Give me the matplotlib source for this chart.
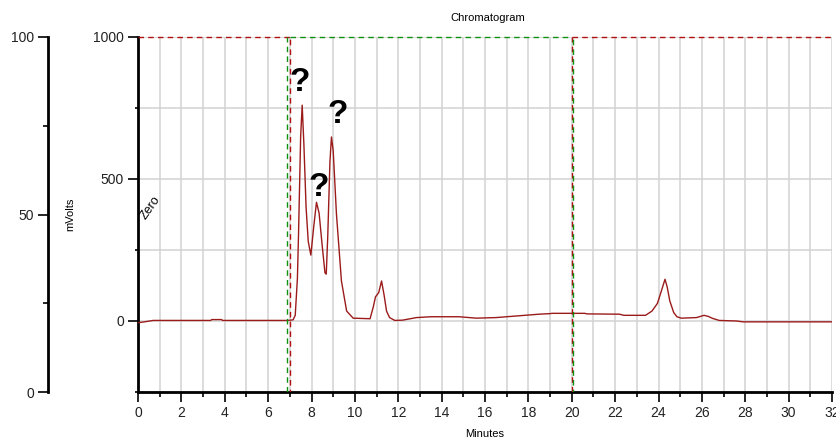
import numpy as np
import matplotlib
matplotlib.use('Agg')
import matplotlib.pyplot as plt
from matplotlib.ticker import MultipleLocator

plt.rcParams['font.family'] = ['Liberation Sans', 'DejaVu Sans']

# chromatogram trace (minutes, mVolts)
minutes = [0.0, 0.3, 0.7, 3.35, 3.4, 3.85, 3.9, 6.9, 7.15, 7.25, 7.35, 7.4, 7.5, 7.57,
           7.65, 7.75, 7.85, 7.97, 8.1, 8.23, 8.35, 8.5, 8.62, 8.68, 8.75, 8.85, 8.92,
           9.0, 9.15, 9.38, 9.62, 9.92, 10.7, 10.85, 10.95, 11.1, 11.23, 11.35, 11.46,
           11.6, 11.84, 12.2, 12.84, 13.5, 14.8, 15.6, 16.5, 17.5, 18.5, 19.0, 19.1,
           20.6, 20.7, 22.2, 22.4, 23.4, 23.7, 23.95, 24.15, 24.3, 24.4, 24.52, 24.7,
           24.85, 25.05, 25.75, 26.1, 26.3, 26.5, 26.8, 27.6, 27.9, 32.0]
mvolts = [-6, -3, 2, 2, 5, 5, 2, 2, 4, 20, 150, 300, 650, 760,
          620, 400, 280, 232, 330, 418, 380, 260, 170, 165, 300, 560, 648,
          600, 377, 141, 35, 10, 8, 50, 85, 100, 141, 90, 35,
          12, 2, 3, 12, 15, 15, 10, 12, 18, 24, 26, 27,
          27, 25, 24, 20, 20, 35, 62, 110, 147, 120, 71, 30,
          15, 10, 12, 20, 16, 9, 2, 0, -3, -3]

# integration window / event markers
event_start = 7.0
event_end = 20.0
full_scale = 1000

# unknown peaks (x, y of the label)
qmarks_x = [7.47, 8.34, 9.19]
qmarks_y = [840, 470, 728]

fig = plt.figure(figsize=(8.36, 4.38), dpi=100)

L, B, W, H = 138/836., 1-392/438., (832-138)/836., (392-37)/438.
ax = fig.add_axes([L, B, W, H])
ax.set_xlim(0, 32)
ax.set_ylim(-250, 1000)

ax.plot(minutes, mvolts, color='#9b1b1b', lw=1.0, zorder=3)

# dashed window lines
dash = (0, (4, 3))
ax.plot([0, event_start], [full_scale, full_scale], color='#b01010', lw=1, ls=dash, clip_on=False, zorder=4)
ax.plot([event_start, event_end], [full_scale, full_scale], color='#109010', lw=1, ls=dash, clip_on=False, zorder=4)
ax.plot([event_end, 32], [full_scale, full_scale], color='#b01010', lw=1, ls=dash, clip_on=False, zorder=4)
ax.plot([event_start-0.12, event_start-0.12], [-250, full_scale], color='#109010', lw=1, ls=dash, zorder=4)
ax.plot([event_start, event_start], [-250, full_scale], color='#b01010', lw=1, ls=(2, (4, 3)), zorder=4)
ax.plot([event_end, event_end], [-250, full_scale], color='#b01010', lw=1, ls=dash, zorder=4)
ax.plot([event_end+0.08, event_end+0.08], [-250, full_scale], color='#109010', lw=1, ls=(2, (4, 3)), zorder=4)

for x, y in zip(qmarks_x, qmarks_y):
    ax.text(x, y, '?', fontsize=24, fontweight='bold', ha='center', va='center', color='black', zorder=5)

ax.text(0.0, 350, 'Zero', rotation=55, fontsize=9, ha='left', va='bottom', color='black')

ax.xaxis.set_major_locator(MultipleLocator(2))
ax.xaxis.set_minor_locator(MultipleLocator(1))
ax.yaxis.set_major_locator(MultipleLocator(500))
ax.yaxis.set_minor_locator(MultipleLocator(250))
ax.grid(True, which='both', color='#d2d2d2', lw=1.1, zorder=0)
ax.set_axisbelow(True)

for s in ['top', 'right']:
    ax.spines[s].set_visible(False)
for s in ['left', 'bottom']:
    ax.spines[s].set_linewidth(2)
ax.tick_params(which='major', length=7, width=1.2, labelsize=10, labelcolor='#222222', pad=3)
ax.tick_params(which='minor', length=3.5, width=1.2)
ax.tick_params(axis='y', which='minor', length=2)

fig.text(488/836., 1-18/438., 'Chromatogram', fontsize=8, ha='center', va='center')
fig.text(485/836., 1-434/438., 'Minutes', fontsize=8, ha='center', va='center')
fig.text(70/836., 1-214/438., 'mVolts', fontsize=8, ha='center', va='center', rotation=90)

# second scale on the left (percent)
ax2 = fig.add_axes([48/836., B, 0.001, H])
ax2.set_ylim(0, 100)
ax2.set_xticks([])
ax2.yaxis.set_major_locator(MultipleLocator(50))
ax2.yaxis.set_minor_locator(MultipleLocator(25))
for s in ['top', 'right', 'bottom']:
    ax2.spines[s].set_visible(False)
ax2.spines['left'].set_linewidth(2)
ax2.tick_params(which='major', length=7, width=1.2, labelsize=10, labelcolor='#222222', pad=3)
ax2.tick_params(which='minor', length=3.5, width=1.2)
ax2.patch.set_visible(False)

plt.savefig('out.png', dpi=100)
